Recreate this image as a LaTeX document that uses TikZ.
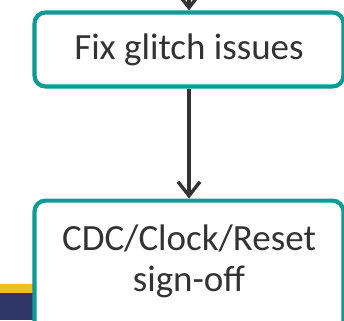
\documentclass[tikz,border=0pt]{standalone}
\usepackage{fontspec}
\setmainfont{Carlito}
\usetikzlibrary{arrows.meta}
\definecolor{tealline}{HTML}{0E9B96}
\definecolor{inkgray}{HTML}{333333}
\definecolor{bandyellow}{HTML}{E9C31C}
\definecolor{bandnavy}{HTML}{2E3668}
\tikzset{
  boxfont/.style={font=\fontsize{37}{41}\selectfont},
  flowbox/.style={draw=tealline, line width=4.2pt, rounded corners=11pt, fill=white,
    text=inkgray, boxfont, align=center, inner sep=0pt},
  flowarrow/.style={draw=inkgray, line width=3.6pt,
    -{Straight Barb[length=14pt, width=22pt, line width=3.4pt]}}
}
\begin{document}
\begin{tikzpicture}[x=1pt, y=-1pt]
\useasboundingbox (0,0) rectangle (344,320);
\fill[white] (0,0) rectangle (344,320);
% footer band
\fill[bandyellow] (0,284) rectangle (344,293);
\fill[bandnavy] (0,293) rectangle (344,320);
% boxes
\node[flowbox, minimum width=309pt, minimum height=74pt] (fix) at (189,49.5) {\raisebox{-2pt}{Fix glitch issues}};
\node[flowbox, minimum width=309pt, minimum height=160pt, anchor=north] (cdc) at (189,198.5) {};
\node[text=inkgray, boxfont, align=center] (cdctext) at (189,261) {CDC/Clock/Reset\\sign-off};
% connectors
\coordinate (topin) at (189,-2);
\draw[flowarrow] (topin) -- (fix.north);
\draw[flowarrow] (fix.south) -- (cdc.north);
\end{tikzpicture}
\end{document}
